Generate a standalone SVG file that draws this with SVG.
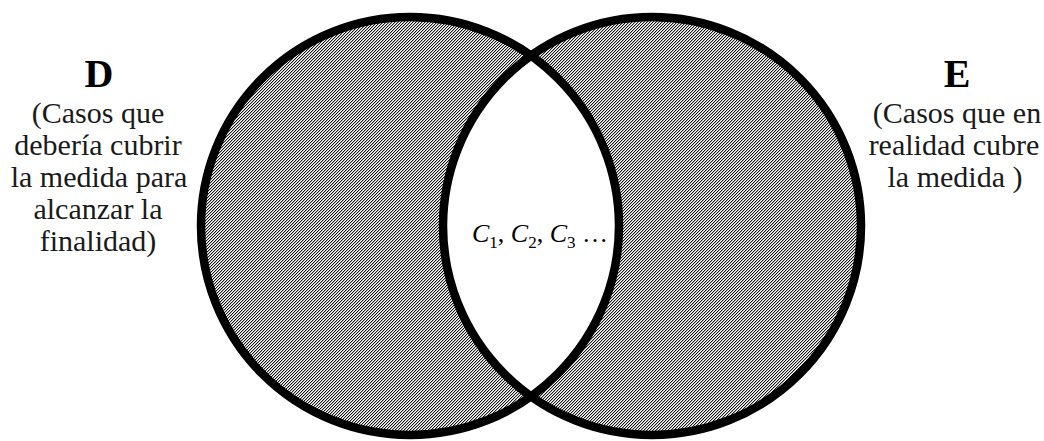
<svg xmlns="http://www.w3.org/2000/svg" width="1044" height="441" viewBox="0 0 1044 441">
  <style>
    .title { font-family: "Liberation Serif", "Times New Roman", serif; font-weight: bold; font-size: 40px; fill: #000; text-anchor: middle; }
    .body { font-family: "Liberation Serif", "Times New Roman", serif; font-size: 30px; fill: #1a1a1a; text-anchor: middle; }
    .set { fill: url(#hatch); }
    .ring { fill: none; stroke: #000; stroke-width: 8.5; }
    .math { font-family: "Liberation Serif", "Times New Roman", serif; font-size: 26px; fill: #000; }
  </style>
  <defs>
    <pattern id="hatch" patternUnits="userSpaceOnUse" x="0" y="0" width="3" height="3">
      <rect x="0" y="0" width="3" height="3" fill="#ffffff"/>
      <rect x="2" y="0" width="1" height="1" fill="#1a1a1a"/>
      <rect x="1" y="1" width="1" height="1" fill="#1a1a1a"/>
      <rect x="0" y="2" width="1" height="1" fill="#1a1a1a"/>
      <rect x="0" y="0" width="1" height="1" fill="#b4b4b4"/>
      <rect x="2" y="1" width="1" height="1" fill="#b4b4b4"/>
      <rect x="1" y="2" width="1" height="1" fill="#b4b4b4"/>
    </pattern>
    <clipPath id="clipD">
      <circle cx="410" cy="226" r="209"/>
    </clipPath>
  </defs>
  <rect width="1044" height="441" fill="#ffffff"/>

  <g id="circle-D">
    <circle class="set" cx="410" cy="226" r="209"/>
  </g>
  <g id="circle-E">
    <circle class="set" cx="652" cy="226" r="209"/>
  </g>
  <g id="intersection">
    <circle cx="652" cy="226" r="209" fill="#ffffff" clip-path="url(#clipD)"/>
  </g>
  <g id="connectors">
    <circle class="ring" cx="410" cy="226" r="209"/>
    <circle class="ring" cx="652" cy="226" r="209"/>
  </g>

  <g id="intersection-label">
    <text class="math" x="472" y="242"><tspan font-style="italic">C</tspan><tspan font-size="17" dy="6">1</tspan><tspan dy="-6">, </tspan><tspan font-style="italic">C</tspan><tspan font-size="17" dy="6">2</tspan><tspan dy="-6">, </tspan><tspan font-style="italic">C</tspan><tspan font-size="17" dy="6">3</tspan><tspan dy="-6"> …</tspan></text>
  </g>

  <g id="label-D">
    <text class="title" x="99" y="87">D</text>
    <text class="body" x="98" y="123">(Casos que</text>
    <text class="body" x="98" y="155">debería cubrir</text>
    <text class="body" x="99" y="187">la medida para</text>
    <text class="body" x="98" y="219">alcanzar la</text>
    <text class="body" x="98" y="251">finalidad)</text>
  </g>

  <g id="label-E">
    <text class="title" x="957" y="87">E</text>
    <text class="body" x="957" y="123">(Casos que en</text>
    <text class="body" x="954" y="155">realidad cubre</text>
    <text class="body" x="955" y="187">la medida )</text>
  </g>
</svg>
